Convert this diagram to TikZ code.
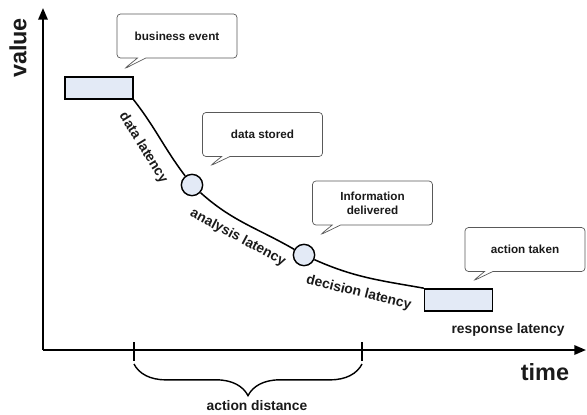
\documentclass[tikz,border=0pt]{standalone}
\usepackage{fontspec}
\setmainfont{Liberation Sans}
\usetikzlibrary{arrows.meta,shapes.callouts,decorations.pathreplacing}
\definecolor{boxblue}{HTML}{E3EAF6}
\definecolor{ink}{HTML}{1A1A1A}

\begin{document}
\begin{tikzpicture}[x=0.03cm, y=0.03cm, font=\bfseries, text=ink,
  box/.style = {draw, fill=boxblue, line width=1.4pt, minimum width=2.03cm, minimum height=0.66cm, inner sep=0},
  dot/.style = {draw, fill=boxblue, circle, line width=1.2pt, minimum size=0.64cm, inner sep=0},
  bubble/.style = {rectangle callout, draw=black!65, line width=0.6pt, rounded corners=3pt,
    minimum width=3.6cm, minimum height=1.32cm, align=center,
    font=\bfseries\fontsize{10}{12}\selectfont},
  lbl/.style = {font=\bfseries\fontsize{11.8}{14}\selectfont},
  axis/.style = {line width=1.8pt, -{Triangle[length=10pt, width=8pt]}}]
  \useasboundingbox (0,0) rectangle (587,-414);

  % axes
  \coordinate (O) at (43,-350);
  \coordinate (ytip) at (43,-8);
  \coordinate (xtip) at (586,-350);
  \draw[axis] (O) -- (ytip);
  \draw[axis] (O) -- (xtip);
  \node[font=\bfseries\fontsize{20}{24}\selectfont, rotate=90] (value) at (18,-48) {value};
  \node[font=\bfseries\fontsize{20}{24}\selectfont] (time) at (545,-372) {time};

  % stages
  \node[box] (r1) at (99,-88) {};
  \node[dot] (c1) at (192,-185) {};
  \node[dot] (c2) at (304,-255) {};
  \node[box] (r2) at (458.5,-300) {};
  \draw[line width=1.3pt] (r1.south east) to[out=-52, in=127] node[lbl, sloped, below=7pt, pos=0.5] {data latency} (c1);
  \draw[line width=1.3pt] (c1) to[out=-42, in=150] node[lbl, sloped, below=4pt] {analysis latency} (c2);
  \draw[line width=1.3pt] (c2) to[out=-24, in=170] node[lbl, sloped, below=5pt, pos=0.45] {decision latency} (r2.north west);
  \node[lbl] (resp) at (508,-330) {response latency};

  % callouts
  \node[bubble, callout absolute pointer={(124,-69)}] (bizevent) at (177,-36) {business event};
  \node[bubble, callout absolute pointer={(210,-166)}] (stored) at (262.5,-134.5) {data stored};
  \node[bubble, callout absolute pointer={(320,-235)}] (delivered) at (372.5,-203) {Information\\delivered};
  \node[bubble, callout absolute pointer={(473,-281)}] (taken) at (525,-249.5) {action taken};

  % action distance
  \coordinate (t1) at (134,-350);
  \coordinate (t2) at (362,-350);
  \draw[line width=1.2pt] (t1) ++(0,8) -- ++(0,-19);
  \draw[line width=1.2pt] (t2) ++(0,8) -- ++(0,-19);
  \draw[decorate, decoration={brace, mirror, amplitude=0.95cm}, line width=1.2pt] (134,-364) -- (362,-364);
  \node[lbl] (dist) at (257,-406) {action distance};
\end{tikzpicture}
\end{document}
